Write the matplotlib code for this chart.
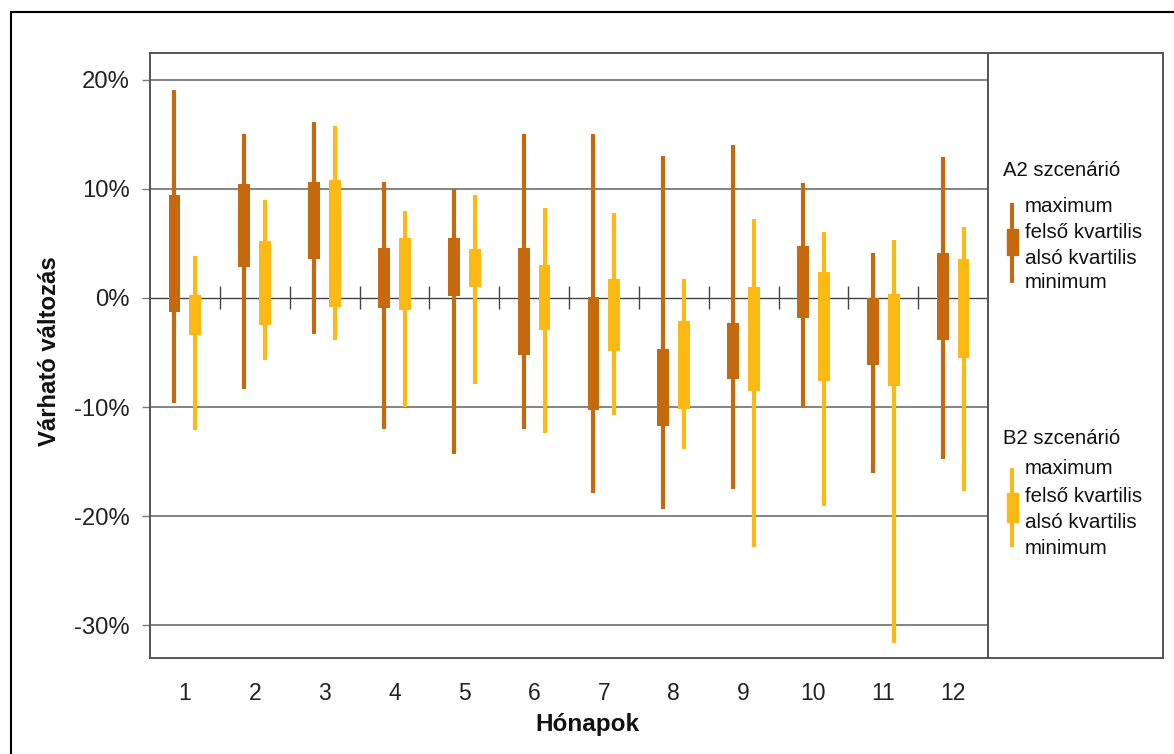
import matplotlib
matplotlib.use("Agg")
import matplotlib.pyplot as plt
from matplotlib.patches import Rectangle
import numpy as np

plt.rcParams['font.family'] = ['Liberation Sans', 'DejaVu Sans']

months = list(range(1, 13))
month_labels = [str(m) for m in months]

# A2 scenario (percent)
a2_max = [19.1, 15.0, 16.1, 10.6, 10.0, 15.0, 15.0, 13.0, 14.0, 10.5, 4.1, 12.9]
a2_q3 = [9.4, 10.4, 10.6, 4.6, 5.5, 4.6, 0.1, -4.7, -2.3, 4.8, 0.0, 4.1]
a2_q1 = [-1.3, 2.8, 3.6, -0.9, 0.2, -5.2, -10.3, -11.7, -7.4, -1.8, -6.1, -3.9]
a2_min = [-9.6, -8.3, -3.3, -12.0, -14.3, -12.0, -17.9, -19.3, -17.5, -10.0, -16.0, -14.8]

# B2 scenario (percent)
b2_max = [3.8, 9.0, 15.8, 8.0, 9.4, 8.2, 7.8, 1.7, 7.2, 6.0, 5.3, 6.5]
b2_q3 = [0.3, 5.2, 10.8, 5.5, 4.5, 3.0, 1.7, -2.1, 1.0, 2.4, 0.35, 3.6]
b2_q1 = [-3.4, -2.5, -0.8, -1.1, 1.0, -2.9, -4.9, -10.2, -8.5, -7.6, -8.1, -5.5]
b2_min = [-12.1, -5.7, -3.9, -10.0, -7.9, -12.4, -10.7, -13.8, -22.8, -19.1, -31.6, -17.7]

yticks = [20, 10, 0, -10, -20, -30]
ytick_labels = ["20%", "10%", "0%", "-10%", "-20%", "-30%"]

c_a2 = '#C5690F'
c_b2 = '#FDB913'

W, H = 1174, 754
fig = plt.figure(figsize=(W / 100, H / 100), dpi=100)

def fx(px):
    return px / W

def fy(py):
    return 1 - py / H

# outer border
fig.patches.append(Rectangle((fx(11), fy(800)), fx(1200) - fx(11), fy(12) - fy(800),
                             transform=fig.transFigure, fill=False, edgecolor='black',
                             linewidth=1.5, zorder=0))

ax_l, ax_r, ax_t, ax_b = 150, 988, 53, 658
ax = fig.add_axes([fx(ax_l), fy(ax_b), fx(ax_r) - fx(ax_l), fy(ax_t) - fy(ax_b)])
ax.set_xlim(0.5, 12.5)
ax.set_ylim(-33.0, 22.45)

for g in [20, 10, -10, -20, -30]:
    ax.axhline(g, color='#7a7a7a', linewidth=1.3, zorder=1)
ax.axhline(0, color='#444444', linewidth=1.0, zorder=1)
bounds = np.arange(1.5, 12.5, 1.0)
ax.vlines(bounds, -1.05, 1.05, color='#444444', linewidth=1.0, zorder=1)

x = np.array(months, dtype=float)
off = 0.15
bw = 0.17
lw_wh = 3.0

xa = x - off
xb = x + off
ax.vlines(xa, a2_min, a2_max, color=c_a2, linewidth=lw_wh, zorder=3)
ax.bar(xa, np.array(a2_q3) - np.array(a2_q1), bottom=a2_q1, width=bw, color=c_a2, zorder=4)
ax.vlines(xb, b2_min, b2_max, color=c_b2, linewidth=lw_wh, zorder=3)
ax.bar(xb, np.array(b2_q3) - np.array(b2_q1), bottom=b2_q1, width=bw, color=c_b2, zorder=4)

ax.set_yticks(yticks)
ax.set_yticklabels(ytick_labels, fontsize=17.2, color='#222222')
ax.set_xticks(months)
ax.set_xticklabels(month_labels, fontsize=16.5, color='#222222')
ax.tick_params(axis='y', length=5.8, width=1.0, color='#7a7a7a', pad=8.6)
ax.tick_params(axis='x', length=0, pad=17)
for s in ax.spines.values():
    s.set_color('#555555')
    s.set_linewidth(1.4)

fig.text(fx(50), fy(351), 'Várható változás', rotation=90, ha='center', va='center',
         fontsize=17.2, fontweight='bold', color='#111111')
fig.text(fx(587), fy(724), 'Hónapok', ha='center', va='center',
         fontsize=17.5, fontweight='bold', color='#111111')

# legend panel
lg = fig.add_axes([fx(988), fy(658), fx(1163) - fx(988), fy(53) - fy(658)])
lg.set_xlim(988, 1163)
lg.set_ylim(658, 53)
lg.set_xticks([])
lg.set_yticks([])
for s in lg.spines.values():
    s.set_color('#555555')
    s.set_linewidth(1.4)

entries = [
    ('A2 szcenárió', c_a2, 170, [206, 232, 258, 283], (203, 283), (229, 255)),
    ('B2 szcenárió', c_b2, 438, [469, 496, 522, 548], (468, 547), (493, 522)),
]
item_texts = ['maximum', 'felső kvartilis', 'alsó kvartilis', 'minimum']
for title, col, ty, ys, (w0, w1), (b0, b1) in entries:
    lg.text(1003, ty, title, fontsize=14.6, ha='left', va='center', color='#111111')
    for t, yy in zip(item_texts, ys):
        lg.text(1025, yy, t, fontsize=14.8, ha='left', va='center', color='#111111')
    lg.plot([1012, 1012], [w0, w1], color=col, linewidth=2.9, solid_capstyle='butt')
    lg.add_patch(Rectangle((1006.5, b0), 11, b1 - b0, color=col))

fig.savefig('out.png', dpi=100)
